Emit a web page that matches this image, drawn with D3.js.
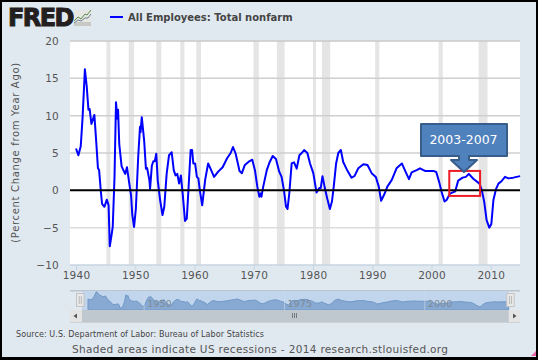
<!DOCTYPE html>
<html><head><meta charset="utf-8">
<script src="https://cdn.jsdelivr.net/npm/d3@7"></script>
<style>html,body{margin:0;padding:0;background:#000;overflow:hidden}svg{display:block}text{font-family:"DejaVu Sans",sans-serif}</style>
</head><body><svg id="c" width="538" height="360"></svg>
<script>
const years=[1940,1940.4,1940.8,1941.1,1941.5,1941.8,1942.1,1942.3,1942.6,1943.1,1943.4,1943.7,1943.9,1944.2,1944.4,1944.8,1945.2,1945.5,1945.7,1946,1946.2,1946.5,1946.75,1947,1947.1,1947.3,1947.7,1948.3,1948.6,1949,1949.3,1949.5,1949.8,1950.1,1950.5,1950.8,1950.9,1951.1,1951.5,1951.8,1952,1952.4,1952.5,1952.8,1953.05,1953.3,1953.55,1953.8,1954.2,1954.6,1954.9,1955.3,1955.7,1956.15,1956.5,1956.8,1957.1,1957.4,1957.7,1958,1958.4,1958.7,1959,1959.35,1959.6,1959.8,1960.1,1960.4,1960.65,1960.9,1961.3,1961.8,1962.3,1962.7,1963.3,1964,1964.75,1965.5,1966.1,1966.5,1966.95,1967.6,1968,1968.5,1969.1,1969.75,1970.2,1970.6,1970.95,1971.2,1971.3,1971.6,1972.2,1972.7,1973.2,1973.75,1974.3,1974.7,1975.1,1975.45,1975.7,1976,1976.4,1976.8,1977.25,1977.7,1978.1,1978.5,1979.05,1979.5,1980.05,1980.6,1981.07,1981.3,1981.6,1982,1982.4,1982.85,1983.2,1983.5,1983.9,1984.27,1984.7,1985.1,1985.7,1986.5,1987,1987.65,1988.5,1989.2,1989.9,1990.6,1991.1,1991.5,1992,1992.55,1993.3,1994.1,1995,1995.5,1996.2,1996.65,1997.5,1998.05,1998.9,1999.7,2000.3,2000.8,2001.3,2001.7,2002.2,2002.55,2003.1,2004,2004.5,2005.25,2005.8,2006.3,2007.05,2008.1,2008.5,2008.9,2009.3,2009.75,2010.1,2010.45,2010.9,2011.3,2011.85,2012.4,2013,2013.8,2014.95];
const values=[5.6,4.7,5.9,9.6,16.2,14,10.8,10.9,8.9,10.1,6.7,3,2.7,-0.2,-1.8,-2.2,-1.25,-2,-7.5,-6,-4.9,1.8,11.8,9.6,10.8,6.2,3.2,2.2,3.1,0.9,-0.7,-3.3,-4.9,-2.5,4.5,8.5,7.8,9.8,6.7,2.9,3,1.3,0.2,3.3,3.9,3.9,4.9,1.3,-1.3,-3.3,-2.2,2.2,4.7,5.1,2.7,2,2.2,0.9,2,-0.4,-4.1,-3.8,0.4,5.4,5.4,3.6,3.6,1.8,1.6,0,-2,1.4,3.6,2.9,1.8,2.5,3.1,4.3,5,5.8,4.9,2.6,2.3,3.4,3.8,4.1,2.7,0.5,-0.85,-0.4,-0.85,0.5,2.7,3.8,4.6,4.2,2.5,1.8,0,-2.2,-2.5,-0.4,3.6,3.75,2.9,4.7,5,5.4,5,3.6,2.3,-0.3,0.3,0.3,1.9,0.3,-1.1,-2.5,-1.5,0.5,3.6,5,5.4,3.8,2.8,1.7,1.9,2.95,3.5,3.4,2.3,1.8,0.5,-1.4,-0.6,0.5,1.4,2.95,3.6,2.7,1.5,2.4,2.7,2.95,2.6,2.6,2.6,2.45,1.1,-0.2,-1.5,-1.3,-0.45,-0.15,1.3,1.7,1.8,2.2,1.55,0.9,0,-1.55,-4,-5,-4.5,-1.3,0.2,0.9,1.25,1.8,1.6,1.7,1.9];
const recessionStart=[1945.15,1948.9,1953.55,1957.6,1960.3,1969.95,1973.9,1980.0,1981.5,1990.5,2001.2,2007.95];
const recessionEnd=[1945.8,1949.8,1954.4,1958.3,1961.1,1970.85,1975.2,1980.5,1982.9,1991.2,2001.9,2009.45];
const yTicks=[-10,-5,5,10,15,20];
const yLabelTicks=[-10,-5,0,5,10,15,20];
const xTicks=[1940,1950,1960,1970,1980,1990,2000,2010];
const navTicks=[1950,1975,2000];
const seriesName="All Employees: Total nonfarm";
const yTitle="(Percent Change from Year Ago)";
const sourceText="Source: U.S. Department of Labor: Bureau of Labor Statistics";
const footerText="Shaded areas indicate US recessions - 2014 research.stlouisfed.org";
const calloutText="2003-2007";
const highlight=[2003,2008.2,2.6,-0.75];

const L=70,R=520,T=41,B=265;
const svg=d3.select("#c");
svg.append("rect").attr("x",2).attr("y",2).attr("width",534).attr("height",355).attr("fill","#e1e9f0");
svg.append("rect").attr("x",L).attr("y",T).attr("width",R-L).attr("height",B-T).attr("fill","#fff");
const x=d3.scaleLinear().domain([1940,2010]).range([76,490.75]);
const y=d3.scaleLinear().domain([-10,20]).range([265,41]);
const pts=years.map((d,i)=>[d,values[i]]);

// recessions
svg.append("g").selectAll("rect").data(recessionStart).join("rect")
 .attr("x",d=>x(d)).attr("y",T).attr("width",(d,i)=>x(recessionEnd[i])-x(d)).attr("height",B-T).attr("fill","#e5e5e5");
// grid
svg.append("g").selectAll("line").data(yTicks).join("line")
 .attr("x1",L).attr("x2",R).attr("y1",d=>y(d)).attr("y2",d=>y(d))
 .attr("stroke",d=>d==-10?"#c6d4e2":d==-5?"#dcdcdc":d==20?"#c8c8c8":"#cfcfcf").attr("stroke-width",1.5);
// x axis
const gx=svg.append("g").attr("transform",`translate(0,${B})`)
 .call(d3.axisBottom(x).tickValues(xTicks).tickFormat(d3.format("d")).tickSize(5).tickSizeOuter(0));
gx.select(".domain").remove();
gx.selectAll("line").attr("stroke","#c6d4e2");
gx.selectAll("text").attr("fill","#555").attr("font-size",10.5).attr("letter-spacing",0.2).attr("y",7).attr("dy","0.71em").attr("font-family","DejaVu Sans");
// y axis
const gy=svg.append("g").attr("transform",`translate(${L},0)`)
 .call(d3.axisLeft(y).tickValues(yLabelTicks).tickSize(0).tickPadding(11));
gy.select(".domain").remove();
gy.selectAll("text").attr("fill","#555").attr("font-size",10.5).attr("letter-spacing",0.2).attr("font-family","DejaVu Sans");
// line
svg.append("path").datum(pts).attr("fill","none").attr("stroke","#0000ff").attr("stroke-width",2).attr("stroke-linejoin","round")
 .attr("d",d3.line().x(d=>x(d[0])).y(d=>y(d[1])));
// zero line
svg.append("line").attr("x1",L).attr("x2",R).attr("y1",y(0)).attr("y2",y(0)).attr("stroke","#000").attr("stroke-width",2);

// y title
svg.append("text").attr("transform",`translate(19,${(62+243)/2}) rotate(-90)`).attr("text-anchor","middle")
 .attr("font-size",10).attr("letter-spacing",0.68).attr("fill","#555").text(yTitle);
// legend
svg.append("line").attr("x1",110).attr("x2",123).attr("y1",17).attr("y2",17).attr("stroke","#0000ff").attr("stroke-width",2);
svg.append("text").attr("x",128).attr("y",21).attr("font-size",10).attr("font-weight","bold").attr("fill","#444").text(seriesName);

// logo
svg.append("text").attr("x",8).attr("y",26).attr("font-family","Liberation Sans").attr("font-weight","bold").attr("font-size",24).attr("fill","#231f20").attr("stroke","#231f20").attr("stroke-width",1).attr("letter-spacing",-1.6).text("FRED");
const logo=svg.append("g");
logo.append("rect").attr("x",74).attr("y",10).attr("width",17).attr("height",16).attr("fill","#e6e6e2");
logo.append("rect").attr("x",74).attr("y",22).attr("width",17).attr("height",4).attr("fill","#c8c8c4");
logo.append("path").attr("d","M74 21L78 17L81 19L85 14L87 15L91 10").attr("fill","none").attr("stroke","#5c8a4a").attr("stroke-width",1);
logo.append("path").attr("d","M74 23L78 20L81 21L85 18L88 18L91 14").attr("fill","none").attr("stroke","#6f7f90").attr("stroke-width",1);

// navigator
const NT=291,NB=310,NL=82,NR=508.7;
const xn=d3.scaleLinear().domain([1940,2014.95]).range([88,NR]);
const yn=d3.scaleLinear().domain([-7.5,16.2]).range([308.3,291.7]);
svg.append("rect").attr("x",L).attr("y",NT-1).attr("width",R-L).attr("height",1.5).attr("fill","#bcc4cc");
svg.append("rect").attr("x",NL).attr("y",NT).attr("width",NR-NL).attr("height",NB-NT).attr("fill","#c1d6ec");
svg.append("path").datum(pts).attr("fill","#87a9d2").attr("stroke","#7098c8").attr("stroke-width",1)
 .attr("d",d3.area().x(d=>xn(d[0])).y0(NB).y1(d=>yn(d[1])));
svg.append("g").selectAll("line").data(navTicks).join("line").attr("x1",d=>xn(d)).attr("x2",d=>xn(d)).attr("y1",NT).attr("y2",NB).attr("stroke","#cfdceb").attr("stroke-opacity",.6);
svg.append("g").selectAll("text").data(navTicks).join("text").attr("x",d=>xn(d)+3).attr("y",307).attr("font-size",9.5).attr("letter-spacing",.1).attr("fill","#7f8a94").text(d=>d);
// scrollbar
svg.append("rect").attr("x",L).attr("y",NB).attr("width",R-L).attr("height",12).attr("fill","#e4e4e4");
svg.append("rect").attr("x",NL).attr("y",NB).attr("width",NR-NL).attr("height",12).attr("fill","#bfc7cf");
svg.append("rect").attr("x",L).attr("y",322).attr("width",R-L).attr("height",.8).attr("fill","#c8ccd0");
svg.append("path").attr("d","M73.5 316l3.5-2.5v5z").attr("fill","#555");
svg.append("path").attr("d","M516.5 316l-3.5-2.5v5z").attr("fill","#555");
[292.5,294.5,296.5].forEach(v=>svg.append("line").attr("x1",v).attr("x2",v).attr("y1",313).attr("y2",318).attr("stroke","#666").attr("stroke-width",.8));
[NL-3.5,NR].forEach(v=>{
 const h=svg.append("g");
 h.append("rect").attr("x",v-2).attr("y",293.5).attr("width",7.5).attr("height",13).attr("fill","#e8e8e8").attr("stroke","#c4c4c4").attr("stroke-width",1);
 h.append("line").attr("x1",v+.8).attr("x2",v+.8).attr("y1",296).attr("y2",304).attr("stroke","#bbb");
 h.append("line").attr("x1",v+2.8).attr("x2",v+2.8).attr("y1",296).attr("y2",304).attr("stroke","#bbb");
});
// foot texts
svg.append("text").attr("x",16).attr("y",337).attr("font-size",8).attr("letter-spacing",.08).attr("fill","#444").text(sourceText);
svg.append("text").attr("x",72).attr("y",353).attr("font-size",10.5).attr("letter-spacing",.34).attr("fill","#555").text(footerText);

// highlight box
svg.append("rect").attr("x",x(highlight[0])).attr("y",y(highlight[2])).attr("width",x(highlight[1])-x(highlight[0])).attr("height",y(highlight[3])-y(highlight[2])).attr("fill","none").attr("stroke","#ed1c24").attr("stroke-width",2);
// callout
svg.append("path").attr("d","M421 124H507V156H469V160H477L464 172L451 160H459V156H421Z").attr("fill","#4f81bd").attr("stroke","#385d8a").attr("stroke-width",2).attr("stroke-linejoin","round");
svg.append("text").attr("x",463.5).attr("y",143.5).attr("text-anchor","middle").attr("font-family","Open Sans").attr("font-size",12.5).attr("fill","#fff").text(calloutText);
// corner
svg.append("path").attr("d","M531 356L536 351V356Z").attr("fill","#ee66aa");
</script></body></html>
